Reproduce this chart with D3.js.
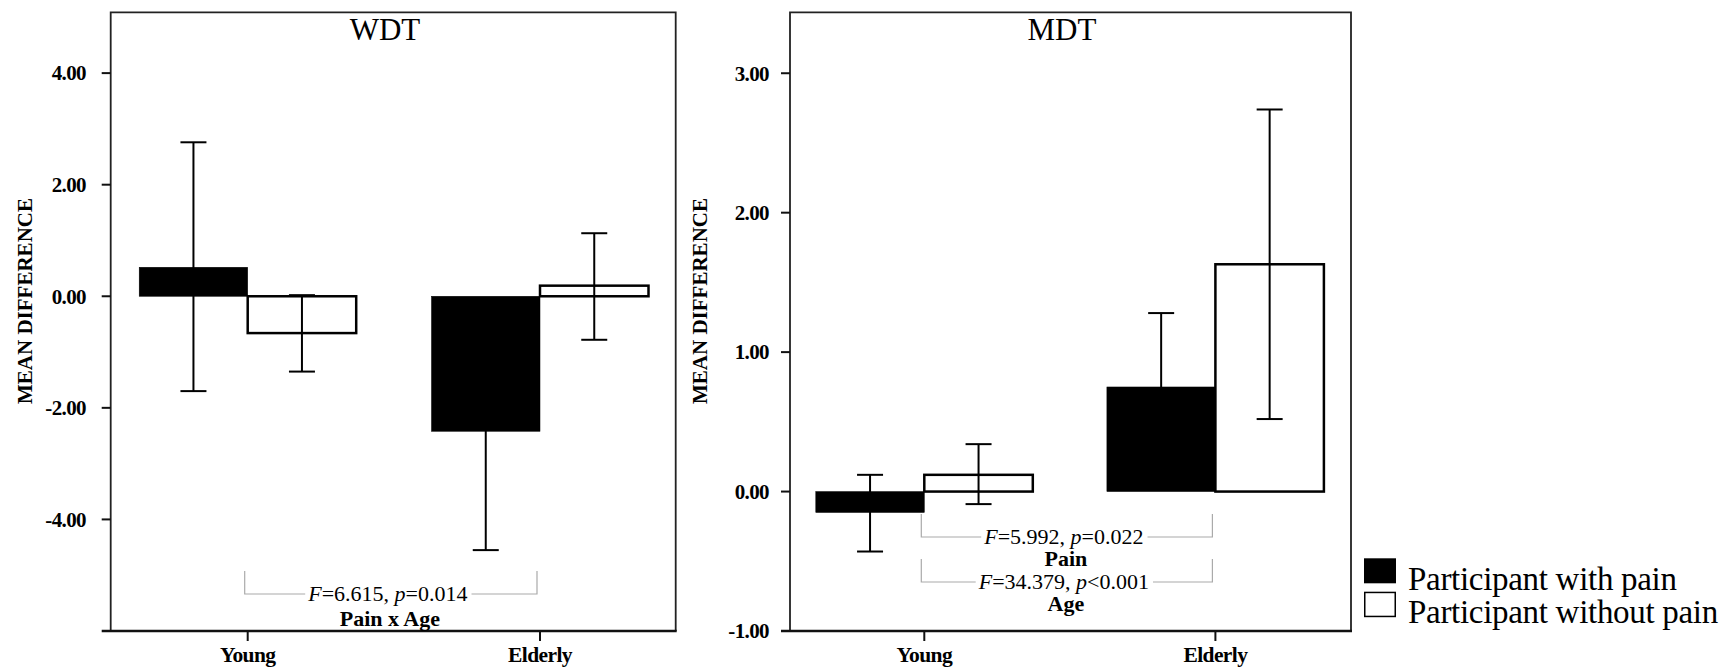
<!DOCTYPE html>
<html>
<head>
<meta charset="utf-8">
<script src="https://cdn.jsdelivr.net/npm/d3@7"></script>
<style>
  body { margin: 0; background: #fff; }
  text { font-family: "Liberation Serif", "Times New Roman", serif; }
</style>
</head>
<body>
<div id="chart"></div>
<script>
// data
var groups = ['Young', 'Elderly'];
var series = ['Participant with pain', 'Participant without pain'];

var wdtWithPain = [0.52, -2.42];
var wdtWithPainLow = [-1.70, -4.55];
var wdtWithPainHigh = [2.76, -0.29];
var wdtWithoutPain = [-0.66, 0.19];
var wdtWithoutPainLow = [-1.35, -0.78];
var wdtWithoutPainHigh = [0.02, 1.13];
var wdtTicks = [-4, -2, 0, 2, 4];

var mdtWithPain = [-0.15, 0.75];
var mdtWithPainLow = [-0.43, 0.22];
var mdtWithPainHigh = [0.12, 1.28];
var mdtWithoutPain = [0.12, 1.63];
var mdtWithoutPainLow = [-0.09, 0.52];
var mdtWithoutPainHigh = [0.34, 2.74];
var mdtTicks = [-1, 0, 1, 2, 3];

var wdtStats = [
    {F: '6.615', rel: '=', p: '0.014', label: 'Pain x Age'}
];
var mdtStats = [
    {F: '5.992', rel: '=', p: '0.022', label: 'Pain'},
    {F: '34.379', rel: '<', p: '0.001', label: 'Age'}
];

var svg = d3.select('#chart').append('svg')
            .attr('width', 1736)
            .attr('height', 670);

// plain hyphen for negatives, like the original
var fmt = function (v) { return d3.format('.2f')(v).replace('\u2212', '-'); };

function buildRows(pain, painLo, painHi, noPain, noPainLo, noPainHi) {
    var rows = [];
    groups.forEach(function (g, i) {
        rows.push({group: g, s: series[0], v: pain[i], lo: painLo[i], hi: painHi[i]});
        rows.push({group: g, s: series[1], v: noPain[i], lo: noPainLo[i], hi: noPainHi[i]});
    });
    return rows;
}

function drawPanel(cfg) {
    var g = svg.append('g');
    var y = d3.scaleLinear().domain(cfg.domain).range([631, 12.3]);
    var x = d3.scalePoint().domain(groups).range([cfg.c0, cfg.c1]);
    var sub = d3.scaleBand().domain(series).range([-108.5, 108.5]);

    // frame
    g.append('path')
        .attr('d', 'M' + cfg.x0 + ',631V12.3H' + cfg.x1 + 'V631')
        .attr('fill', 'none').attr('stroke', '#222').attr('stroke-width', 1.8);
    g.append('line')
        .attr('x1', cfg.x0 - 9).attr('x2', cfg.x1 + 1)
        .attr('y1', 631).attr('y2', 631)
        .attr('stroke', '#111').attr('stroke-width', 2.5);

    // y ticks
    var yt = g.selectAll('.yt').data(cfg.ticks).enter().append('g');
    yt.append('line')
        .attr('x1', cfg.x0 - 9).attr('x2', cfg.x0)
        .attr('y1', function (d) { return y(d); })
        .attr('y2', function (d) { return y(d); })
        .attr('stroke', '#111').attr('stroke-width', 2);
    yt.append('text')
        .attr('x', cfg.labelRight)
        .attr('y', function (d) { return y(d); })
        .attr('dy', '0.35em')
        .attr('text-anchor', 'end')
        .attr('font-weight', 'bold')
        .attr('font-size', 21)
        .attr('letter-spacing', -0.6)
        .text(function (d) { return fmt(d); });

    // x ticks
    var xt = g.selectAll('.xt').data(groups).enter().append('g');
    xt.append('line')
        .attr('x1', function (d) { return x(d); })
        .attr('x2', function (d) { return x(d); })
        .attr('y1', 631).attr('y2', 641)
        .attr('stroke', '#111').attr('stroke-width', 2);
    xt.append('text')
        .attr('x', function (d) { return x(d); })
        .attr('y', 662)
        .attr('text-anchor', 'middle')
        .attr('font-weight', 'bold')
        .attr('font-size', 21.5)
        .attr('letter-spacing', -0.6)
        .text(function (d) { return d; });

    // y label
    g.append('text')
        .attr('transform', 'translate(' + cfg.ylabelX + ',301) rotate(-90)')
        .attr('dy', '0.35em')
        .attr('text-anchor', 'middle')
        .attr('font-weight', 'bold')
        .attr('font-size', 21)
        .text('MEAN DIFFERENCE');

    // title
    g.append('text')
        .attr('x', cfg.titleX).attr('y', 39.5)
        .attr('text-anchor', 'middle')
        .attr('font-size', 31)
        .text(cfg.title);

    // bars
    g.selectAll('.bar').data(cfg.rows).enter().append('rect')
        .attr('x', function (d) { return x(d.group) + sub(d.s); })
        .attr('width', sub.bandwidth())
        .attr('y', function (d) { return y(Math.max(0, d.v)); })
        .attr('height', function (d) { return Math.abs(y(d.v) - y(0)); })
        .attr('fill', function (d) { return d.s === series[0] ? '#000' : '#fff'; })
        .attr('stroke', '#000')
        .attr('stroke-width', function (d) { return d.s === series[0] ? 0.5 : 2.5; });

    // error bars
    var eb = g.selectAll('.eb').data(cfg.rows).enter().append('g')
        .attr('transform', function (d) {
            return 'translate(' + (x(d.group) + sub(d.s) + sub.bandwidth() / 2) + ',0)';
        });
    eb.append('line')
        .attr('y1', function (d) { return y(d.lo); })
        .attr('y2', function (d) { return y(d.hi); })
        .attr('stroke', '#000').attr('stroke-width', 2);
    eb.selectAll('.cap').data(function (d) { return [d.lo, d.hi]; }).enter().append('line')
        .attr('x1', -13).attr('x2', 13)
        .attr('y1', function (v) { return y(v); })
        .attr('y2', function (v) { return y(v); })
        .attr('stroke', '#000').attr('stroke-width', 2);

    // significance brackets
    var bx0 = x(groups[0]) - 3, bx1 = x(groups[1]) - 3, mid = (bx0 + bx1) / 2 - 3;
    cfg.stats.forEach(function (st, i) {
        var top = cfg.statTop[i], ly = top + 23;
        var t = g.append('text')
            .attr('x', mid).attr('y', ly)
            .attr('dy', '0.3em')
            .attr('text-anchor', 'middle')
            .attr('font-size', 22);
        t.append('tspan').attr('font-style', 'italic').text('F');
        t.append('tspan').text('=' + st.F + ', ');
        t.append('tspan').attr('font-style', 'italic').text('p');
        t.append('tspan').text(st.rel + st.p);
        var w = t.node().getComputedTextLength();
        var gap0 = mid - w / 2 - 3, gap1 = mid + w / 2 + 4;
        g.append('path')
            .attr('d', 'M' + bx0 + ',' + top + 'V' + ly + 'H' + gap0 +
                       'M' + gap1 + ',' + ly + 'H' + bx1 + 'V' + top)
            .attr('fill', 'none').attr('stroke', '#aaa').attr('stroke-width', 1.2);
        g.append('text')
            .attr('x', mid + 2).attr('y', ly + cfg.labelGap)
            .attr('text-anchor', 'middle')
            .attr('font-weight', 'bold')
            .attr('font-size', 22)
            .text(st.label);
    });
}

drawPanel({
    title: 'WDT', domain: [-6, 5.09], ticks: wdtTicks,
    x0: 110.7, x1: 675.7, c0: 247.7, c1: 540,
    labelRight: 86, ylabelX: 25, titleX: 385,
    rows: buildRows(wdtWithPain, wdtWithPainLow, wdtWithPainHigh,
                    wdtWithoutPain, wdtWithoutPainLow, wdtWithoutPainHigh),
    stats: wdtStats, statTop: [571], labelGap: 32
});

drawPanel({
    title: 'MDT', domain: [-1, 3.437], ticks: mdtTicks,
    x0: 790, x1: 1351, c0: 924.3, c1: 1215.4,
    labelRight: 769, ylabelX: 700, titleX: 1062,
    rows: buildRows(mdtWithPain, mdtWithPainLow, mdtWithPainHigh,
                    mdtWithoutPain, mdtWithoutPainLow, mdtWithoutPainHigh),
    stats: mdtStats, statTop: [514, 559], labelGap: 29
});

// legend
var legend = svg.selectAll('.legend').data(series).enter().append('g')
    .attr('transform', function (d, i) { return 'translate(1364,' + (558.3 + i * 33.4) + ')'; });
legend.append('rect')
    .attr('x', function (d, i) { return i ? 0.75 : 0; })
    .attr('y', function (d, i) { return i ? 0.75 : 0; })
    .attr('width', function (d, i) { return i ? 30.5 : 32; })
    .attr('height', function (d, i) { return i ? 24 : 25; })
    .attr('fill', function (d, i) { return i ? '#fff' : '#000'; })
    .attr('stroke', '#000')
    .attr('stroke-width', function (d, i) { return i ? 1.5 : 0; });
legend.append('text')
    .attr('x', 44).attr('y', 31.5)
    .attr('font-size', 33)
    .attr('letter-spacing', -0.3)
    .text(function (d) { return d; });
</script>
</body>
</html>
